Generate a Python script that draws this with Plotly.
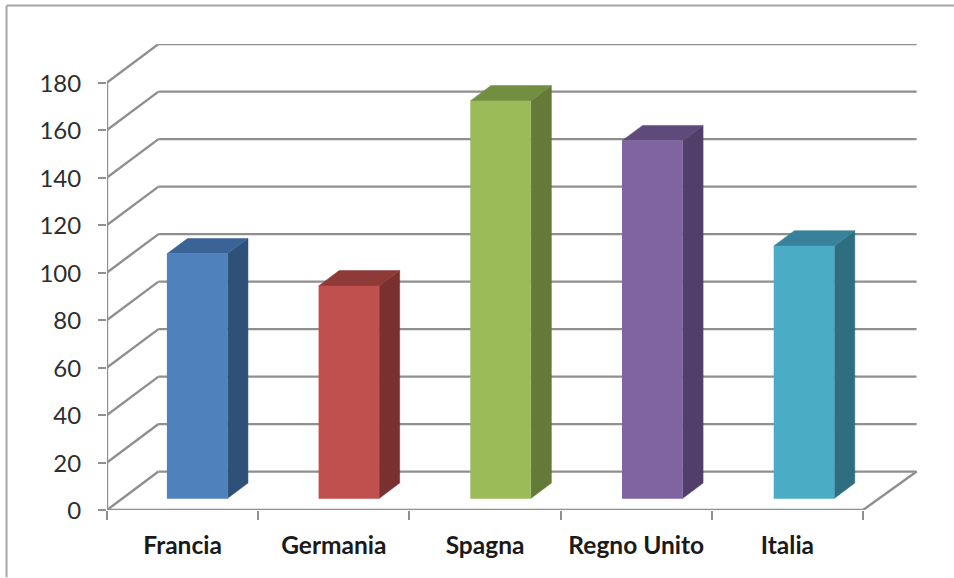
import plotly.graph_objects as go

# Chart data
categories = ["Francia", "Germania", "Spagna", "Regno Unito", "Italia"]
values = [103, 89.5, 167.4, 150.6, 106.3]
face_colors = ["#4f81bd", "#c0504d", "#9bbb59", "#8064a2", "#4bacc6"]
side_colors = ["#2f5078", "#7a302e", "#647a38", "#523e6b", "#2f6d80"]
top_colors = ["#3a6396", "#8d3a38", "#728f41", "#5f4a7c", "#37829a"]
y_ticks = list(range(0, 181, 20))

GRID = "#8f8f8f"
WIDTH, HEIGHT = 954, 578
LEFT, TOP, RIGHT_END, BOTTOM = 106.5, 43.5, 917, 510.5
PX_PER_CAT = 151.3
PX_PER_UNIT = 2.38

# Oblique depth vector, in axis units, for the full depth of the floor
DEPTH_X = 51.5 / PX_PER_CAT
DEPTH_Y = 38.5 / PX_PER_UNIT
BAR_NEAR, BAR_FAR = 0.30, 0.70
BAR_HALF = 0.2
# Columns sit on a slightly wider pitch than the axis ticks
BAR_PITCH = 1.0033
BAR_START = 0.494
# The back wall ends a touch further right than the front edge plus depth
WALL_END = 5.014


def project(cat_pos, val, depth):
    return cat_pos + depth * DEPTH_X, val + depth * DEPTH_Y


def segment(fig, a, b):
    pts = [project(*a), project(*b)]
    fig.add_trace(go.Scatter(
        x=[p[0] for p in pts], y=[p[1] for p in pts], mode="lines",
        line=dict(color=GRID, width=2.4), cliponaxis=False,
        hoverinfo="skip", showlegend=False))


def polygon(fig, corners, color):
    pts = [project(*c) for c in corners]
    fig.add_trace(go.Scatter(
        x=[p[0] for p in pts], y=[p[1] for p in pts], mode="lines",
        fill="toself", fillcolor=color, line=dict(color=color, width=0.5),
        cliponaxis=False, hoverinfo="skip", showlegend=False))


fig = go.Figure()
n = len(categories)

# Back wall gridlines and their runs along the side wall
for v in y_ticks:
    segment(fig, (0, v, 1), (WALL_END, v, 1))
    segment(fig, (0, v, 0), (0, v, 1))

# Floor edge and front axes
segment(fig, (n, 0, 0), (WALL_END, 0, 1))
segment(fig, (0, 0, 0), (n, 0, 0))
segment(fig, (0, 0, 0), (0, y_ticks[-1], 0))

# Columns: side, top, then front face
for i, v in enumerate(values):
    c = BAR_START + i * BAR_PITCH
    l, r = c - BAR_HALF, c + BAR_HALF
    polygon(fig, [(r, 0, BAR_NEAR), (r, 0, BAR_FAR), (r, v, BAR_FAR), (r, v, BAR_NEAR)], side_colors[i])
    polygon(fig, [(l, v, BAR_NEAR), (l, v, BAR_FAR), (r, v, BAR_FAR), (r, v, BAR_NEAR)], top_colors[i])
    polygon(fig, [(l, 0, BAR_NEAR), (r, 0, BAR_NEAR), (r, v, BAR_NEAR), (l, v, BAR_NEAR)], face_colors[i])

plot_w = RIGHT_END - LEFT
plot_h = BOTTOM - TOP


def paper_x(px):
    return (px - LEFT) / plot_w


def paper_y(py):
    return (BOTTOM - py) / plot_h


frame = dict(color="#a6a6a6", width=2)
fig.update_layout(
    width=WIDTH, height=HEIGHT,
    autosize=False,
    margin=dict(l=LEFT, r=WIDTH - RIGHT_END, t=TOP, b=HEIGHT - BOTTOM, pad=0),
    paper_bgcolor="white", plot_bgcolor="white",
    showlegend=False,
    xaxis=dict(
        range=[0, plot_w / PX_PER_CAT],
        tickmode="array",
        tickvals=[i + 0.5 for i in range(n)],
        ticktext=categories,
        ticks="",
        ticklabelstandoff=18,
        tickfont=dict(family="Lato", size=24.5, color="#1a1a1a", weight="bold"),
        showgrid=False, zeroline=False, showline=False,
        minor=dict(tickmode="array", tickvals=list(range(n + 1)), ticks="outside",
                   ticklen=9, tickwidth=2, tickcolor=GRID, showgrid=False),
    ),
    yaxis=dict(
        range=[0, plot_h / PX_PER_UNIT],
        tickmode="array",
        tickvals=y_ticks,
        ticks="outside", ticklen=8, tickwidth=2, tickcolor=GRID,
        ticklabelstandoff=12,
        ticklabelshift=1,
        tickfont=dict(family="Lato", size=24, color="#2e2e2e"),
        showgrid=False, zeroline=False, showline=False,
    ),
    shapes=[
        dict(type="line", xref="paper", yref="paper", layer="below",
             x0=paper_x(6), x1=paper_x(954), y0=paper_y(5), y1=paper_y(5), line=frame),
        dict(type="line", xref="paper", yref="paper", layer="below",
             x0=paper_x(6), x1=paper_x(6), y0=paper_y(5), y1=paper_y(578), line=frame),
    ],
)

fig.write_html("out.html")
